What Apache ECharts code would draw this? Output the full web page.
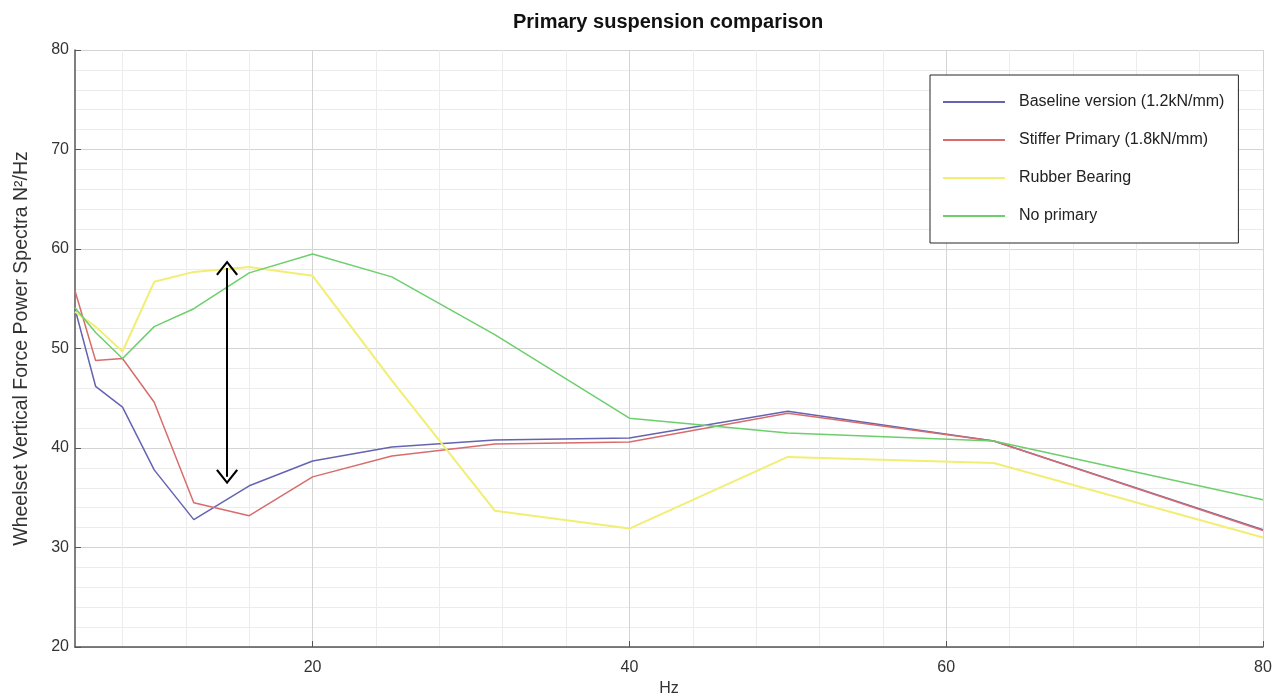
<!DOCTYPE html>
<html lang="en">
<head>
    <meta charset="UTF-8">
    <title>Primary suspension comparison</title>
    <script src="https://cdn.jsdelivr.net/npm/echarts@6.0.0/dist/echarts.min.js"></script>
    <style>
        html, body { margin: 0; padding: 0; background: #fff; }
    </style>
</head>
<body>
    <div id="main" style="width: 1278px;height:695px;"></div>
    <script type="text/javascript">
        // 1/3 octave centre frequencies (Hz)
        const freq = [5, 6.3, 8, 10, 12.5, 16, 20, 25, 31.5, 40, 50, 63, 80];

        // values
        const baseline  = [54.0, 46.2, 44.1, 37.8, 32.8, 36.2, 38.7, 40.1, 40.8, 41.0, 43.7, 40.7, 31.8];
        const stiffer   = [55.8, 48.8, 49.0, 44.6, 34.5, 33.2, 37.1, 39.2, 40.4, 40.6, 43.5, 40.7, 31.7];
        const rubber    = [53.7, 52.2, 49.7, 56.7, 57.7, 58.2, 57.3, 46.8, 33.7, 31.9, 39.1, 38.5, 31.0];
        const noPrimary = [54.1, 51.6, 49.0, 52.2, 54.0, 57.6, 59.5, 57.2, 51.4, 43.0, 41.5, 40.7, 34.8];

        const seriesNames = ['Baseline version (1.2kN/mm)', 'Stiffer Primary (1.8kN/mm)', 'Rubber Bearing', 'No primary'];
        const xTicks = [20, 40, 60, 80];
        const xMinorGrid = [8, 12, 16, 24, 28, 32, 36, 44, 48, 52, 56, 64, 68, 72, 76];

        // double arrow drawn on the chart (x, yTop, yBottom)
        const arrowX = 14.6, arrowTop = 58.1, arrowBottom = 37.1;

        let myChart = echarts.init(document.getElementById('main'));

        const pair = (ys) => freq.map((f, i) => [f, ys[i]]);
        const chevron = 'path://M10,0 L20,13 L18.4,14.2 L10,3.2 L1.6,14.2 L0,13 Z';
        const font = 'Liberation Sans';

        function lineSeries(name, ys, color, width) {
            return {
                name: name,
                type: 'line',
                data: pair(ys),
                symbol: 'none',
                lineStyle: { color: color, width: width },
                itemStyle: { color: color },
                animation: false
            };
        }

        const series = [
            lineSeries(seriesNames[0], baseline, '#6464b2', 1.5),
            lineSeries(seriesNames[1], stiffer, '#d86c6c', 1.5),
            lineSeries(seriesNames[2], rubber, '#f2ee74', 2),
            lineSeries(seriesNames[3], noPrimary, '#6ccf6c', 1.5)
        ];
        series[3].markLine = {
            silent: true,
            animation: false,
            symbol: [chevron, chevron],
            symbolSize: [22, 15],
            label: { show: false },
            lineStyle: { color: '#000', width: 2, type: 'solid' },
            data: [[{ coord: [arrowX, arrowTop] }, { coord: [arrowX, arrowBottom] }]]
        };

        const options = {
            backgroundColor: '#fff',
            title: {
                text: 'Primary suspension comparison',
                left: 508,
                top: 7,
                textStyle: { fontFamily: font, fontSize: 20, fontWeight: 'bold', color: '#111' }
            },
            legend: {
                orient: 'vertical',
                left: 930,
                top: 75,
                padding: [19, 14, 19, 12],
                itemWidth: 62,
                itemHeight: 14,
                itemGap: 22,
                backgroundColor: '#fff',
                borderColor: '#262626',
                borderWidth: 1,
                borderRadius: 0,
                itemStyle: { opacity: 0 },
                textStyle: { fontFamily: font, fontSize: 16, color: '#222', padding: [0, 0, 0, 9] },
                data: seriesNames
            },
            grid: { left: 75, right: 15, top: 50, bottom: 48, outerBoundsMode: 'none' },
            xAxis: [
                {
                    // light vertical grid every 4 Hz
                    type: 'value', min: 5, max: 80,
                    axisLine: { show: false },
                    axisTick: { show: false, customValues: xMinorGrid },
                    axisLabel: { show: false },
                    splitLine: { show: true, lineStyle: { color: '#ececec', width: 1 } }
                },
                {
                    type: 'value', min: 5, max: 80, position: 'bottom',
                    name: 'Hz', nameLocation: 'middle', nameGap: 33,
                    nameTextStyle: { fontFamily: font, fontSize: 16, color: '#333' },
                    axisLine: { show: true, onZero: false, lineStyle: { color: '#555', width: 1.5 } },
                    axisTick: { show: true, inside: true, length: 6, lineStyle: { color: '#555' }, customValues: xTicks },
                    axisLabel: { margin: 13, fontFamily: font, fontSize: 16, color: '#333', customValues: xTicks },
                    splitLine: { show: true, lineStyle: { color: '#d4d4d4', width: 1 } }
                }
            ],
            yAxis: {
                type: 'value', min: 20, max: 80, interval: 10,
                name: 'Wheelset Vertical Force Power Spectra N\u00b2/Hz',
                nameLocation: 'middle', nameGap: 43,
                nameTextStyle: { fontFamily: font, fontSize: 19.5, color: '#333' },
                axisLine: { show: true, lineStyle: { color: '#555', width: 1.5 } },
                axisTick: { show: true, inside: true, length: 6, lineStyle: { color: '#555' } },
                axisLabel: { margin: 6, fontFamily: font, fontSize: 16, color: '#333' },
                splitLine: { show: true, lineStyle: { color: '#d4d4d4', width: 1 } },
                minorTick: { show: false, splitNumber: 5 },
                minorSplitLine: { show: true, lineStyle: { color: '#ececec', width: 1 } }
            },
            series: series
        };
        myChart.setOption(options);
    </script>
</body>
</html>
